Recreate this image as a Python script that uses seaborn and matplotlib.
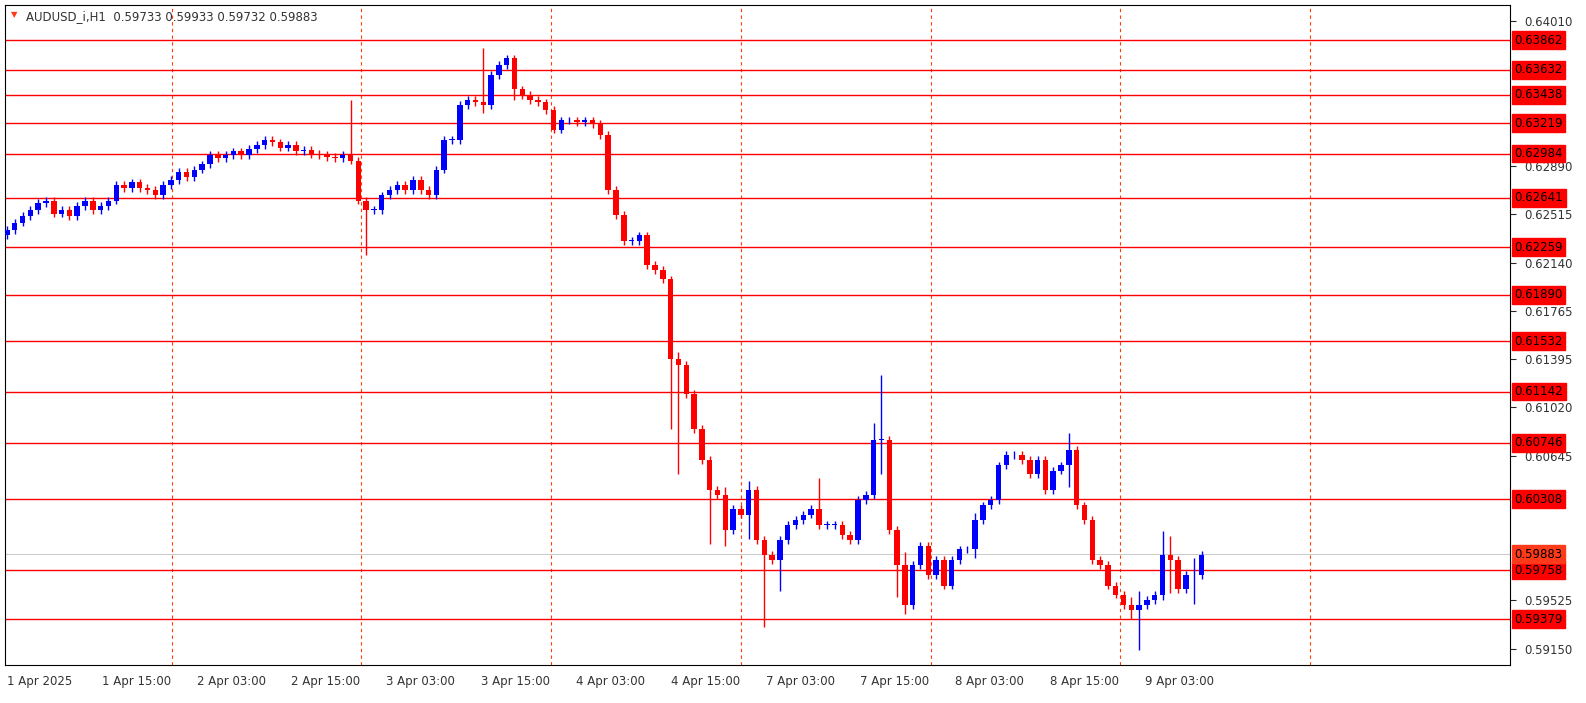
import numpy as np
import pandas as pd
import matplotlib
matplotlib.use("Agg")
import matplotlib.pyplot as plt
import seaborn as sns

# hourly closes, AUDUSD H1, 1 Apr 03:00 onward
closes = [.6239, .6245, .6250, .6255, .6260, .6262, .6252, .6255, .6250, .6258, .6262, .6255,
          .6258, .6262, .6274, .6272, .6276, .6272, .6270, .6266, .6274, .6278, .6284, .6280,
          .6286, .6290, .6297, .6295, .6297, .6300, .6297, .6302, .6305, .6309, .6307, .6303,
          .6305, .6300, .6301, .6298, .6297, .6296, .6295, .6297, .6293, .6262, .6255, .6255,
          .6266, .6270, .6274, .6270, .6278, .6270, .6266, .6286, .6309, .6309, .6336, .6340,
          .6338, .6336, .6359, .6367, .6372, .6348, .6344, .6340, .6338, .6332, .6317, .6324,
          .6324, .6323, .6324, .6321, .6313, .6270, .6251, .6231, .6231, .6235, .6212, .6208,
          .6201, .6139, .6135, .6112, .6085, .6061, .6038, .6034, .6007, .6023, .6019, .6038,
          .5999, .5988, .5984, .5999, .6011, .6015, .6019, .6023, .6011, .6011, .6011, .6003,
          .5999, .6030, .6034, .6077, .6077, .6007, .5980, .5949, .5980, .5995, .5972, .5984,
          .5964, .5984, .5992, .5992, .6015, .6026, .6030, .6057, .6065, .6065, .6061, .6050,
          .6061, .6038, .6053, .6057, .6069, .6026, .6015, .5984, .5980, .5964, .5957, .5949,
          .5945, .5949, .5953, .5957, .5988, .5984, .5961, .5972, .5972, .5988]
first_open = .6235
# notable wick extremes: bar index -> (high, low)
wick_extremes = {44: (.6340, .6290), 46: (.6262, .6220), 61: (.6380, .6330), 65: (.6373, .6340),
                 85: (.6150, .6085), 86: (.6145, .6050), 90: (.6045, .5996), 92: (.6040, .5995),
                 95: (.6045, .6000), 97: (.5998, .5932), 99: (.6000, .5960), 104: (.6047, .6008),
                 111: (.6090, .6060), 112: (.6127, .6050), 114: (.6010, .5955), 115: (.5990, .5942),
                 124: (.6020, .5985), 136: (.6082, .6040), 144: (.5955, .5938), 145: (.5960, .5914),
                 148: (.6006, .5953), 149: (.6002, .5958), 152: (.5985, .5950)}
level_lines = [0.63862, 0.63632, 0.63438, 0.63219, 0.62984, 0.62641, 0.62259, 0.61890,
               0.61532, 0.61142, 0.60746, 0.60308, 0.59758, 0.59379]
price_ticks = [0.64010, 0.62890, 0.62515, 0.62140, 0.61765, 0.61395, 0.61020, 0.60645,
               0.59525, 0.59150]
last_price = 0.59883
time_labels = ["1 Apr 2025", "1 Apr 15:00", "2 Apr 03:00", "2 Apr 15:00", "3 Apr 03:00",
               "3 Apr 15:00", "4 Apr 03:00", "4 Apr 15:00", "7 Apr 03:00", "7 Apr 15:00",
               "8 Apr 03:00", "8 Apr 15:00", "9 Apr 03:00"]

df = pd.DataFrame({"close": closes})
df["open"] = [first_open] + closes[:-1]
df["high"] = df[["open", "close"]].max(axis=1) + 0.0003
df["low"] = df[["open", "close"]].min(axis=1) - 0.0003
for i, (h, l) in wick_extremes.items():
    if i < len(df):
        df.loc[i, "high"] = max(h, df.loc[i, "high"])
        df.loc[i, "low"] = min(l, df.loc[i, "low"])
df["x"] = np.arange(len(df))
df["bull"] = df["close"] >= df["open"]

sns.set_style("white")
plt.rcParams["font.family"] = ["DejaVu Sans"]

W, H = 1586, 703
fig = plt.figure(figsize=(W / 100, H / 100), dpi=100)
ax = fig.add_axes([5 / W, 38 / H, 1505 / W, 660 / H])
ax.set_xlim(-0.25, 192.5)
ax.set_ylim(0.59025, 0.64134)

# vertical dashed separators
for k in range(7):
    ax.axvline(21.1 + 24.3 * k, color="#ff4000", ls=(0, (3, 3)), lw=0.8, zorder=0)
for lv in level_lines:
    ax.axhline(lv, color="#ff0000", lw=1, zorder=1)

blue, red = "#0000ff", "#ff0000"
for _, r in df.iterrows():
    col = blue if r["bull"] else red
    ax.vlines(r["x"], r["low"], r["high"], color=col, lw=1, zorder=2)
    lo, hi = sorted([r["open"], r["close"]])
    ax.bar(r["x"], max(hi - lo, 0.00004), bottom=lo, width=0.7, color=col, lw=0, zorder=3)

ax.axhline(last_price, color="#c0c0c0", lw=0.6, zorder=1)

# right axis
ax.yaxis.tick_right()
ax.set_yticks(price_ticks)
ax.set_yticklabels([f"{p:.5f}" for p in price_ticks], fontsize=8.5, color="#333333")
ax.tick_params(axis="y", length=4, pad=6)
for lv in level_lines:
    ax.text(1.003, lv, f"{lv:.5f}", transform=ax.get_yaxis_transform(), fontsize=8.5,
            color="black", va="center", ha="left", clip_on=False,
            bbox=dict(boxstyle="square,pad=0.2", fc="#ff0000", ec="#ff0000"))
ax.text(1.003, last_price, f"{last_price:.5f}", transform=ax.get_yaxis_transform(), fontsize=8.5,
        color="black", va="center", ha="left", clip_on=False,
        bbox=dict(boxstyle="square,pad=0.2", fc="#ff3a1a", ec="#ff3a1a"))

ax.set_xticks(np.arange(0, 12 * len(time_labels), 12) * 1.012)
ax.set_xticklabels(time_labels, fontsize=8.5, ha="left", color="#333333")
ax.tick_params(axis="x", length=4, pad=3)

for sp in ax.spines.values():
    sp.set_color("black")
    sp.set_linewidth(0.8)

ax.text(0.004, 0.992, "\u25bc", transform=ax.transAxes, fontsize=6, color="#ff3a1a",
        va="top", ha="left")
ax.text(0.014, 0.993, "AUDUSD_i,H1  0.59733 0.59933 0.59732 0.59883", transform=ax.transAxes,
        fontsize=8.5, color="#333333", va="top", ha="left")

fig.savefig("out.png", dpi=100, facecolor="white")
